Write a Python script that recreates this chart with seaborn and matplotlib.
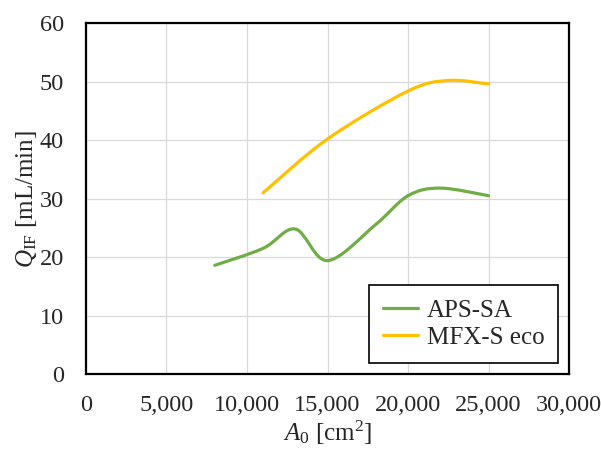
import numpy as np
import matplotlib
matplotlib.use('Agg')
import matplotlib.pyplot as plt
from matplotlib.path import Path
from matplotlib.patches import PathPatch
from matplotlib.lines import Line2D
from matplotlib.ticker import FuncFormatter
import seaborn as sns

# values
aps_area = [8000, 11000, 13000, 15000, 18000, 20000, 22000, 25000]
aps_flow = [18.6, 21.5, 24.8, 19.4, 25.6, 30.5, 31.8, 30.5]

mfx_area = [11000, 15000, 20000, 22500, 25000]
mfx_flow = [31.0, 40.2, 48.4, 50.2, 49.6]

series_names = ['APS-SA', 'MFX-S eco']
series_colors = ['#70AD47', '#FFC000']

sns.set_style('white')
plt.rcParams['font.family'] = ['Liberation Serif', 'DejaVu Serif']
plt.rcParams['mathtext.fontset'] = 'custom'
plt.rcParams['mathtext.rm'] = 'Liberation Serif'
plt.rcParams['mathtext.it'] = 'Liberation Serif:italic'


def smooth_path(xs, ys):
    # excel-like smoothed line: cubic bezier through each point
    pts = np.column_stack([xs, ys]).astype(float)
    n = len(pts)
    verts = [pts[0]]
    codes = [Path.MOVETO]
    for i in range(n - 1):
        p0 = pts[max(i - 1, 0)]
        p1 = pts[i]
        p2 = pts[i + 1]
        p3 = pts[min(i + 2, n - 1)]
        verts += [p1 + (p2 - p0) / 6, p2 - (p3 - p1) / 6, p2]
        codes += [Path.CURVE4] * 3
    return Path(verts, codes)


fig = plt.figure(figsize=(6.01, 4.54), dpi=100)
ax = fig.add_axes([0.143, 0.176, 0.804, 0.773])

handles = []
for xs, ys, name, c in zip([aps_area, mfx_area], [aps_flow, mfx_flow],
                           series_names, series_colors):
    patch = PathPatch(smooth_path(xs, ys), facecolor='none', edgecolor=c,
                      lw=2.3, capstyle='round', joinstyle='round', zorder=3)
    ax.add_patch(patch)
    handles.append(Line2D([], [], color=c, lw=2.3, label=name))

ax.set_xlim(0, 30000)
ax.set_ylim(0, 60)
ax.set_xticks(range(0, 30001, 5000))
ax.set_yticks(range(0, 61, 10))
ax.xaxis.set_major_formatter(FuncFormatter(lambda v, p: f'{int(v):,}'))
ax.grid(True, color='#D9D9D9', lw=0.9)
ax.set_axisbelow(True)
for s in ax.spines.values():
    s.set_color('black')
    s.set_linewidth(1.6)
ax.tick_params(axis='y', length=0, labelsize=17.5, pad=16)
ax.tick_params(axis='x', length=0, labelsize=17.5, pad=15)

ax.set_xlabel(r'$A_0$ [cm$^2$]', fontsize=18, labelpad=2)
ax.set_ylabel(r'$Q_{\rm IF}$ [mL/min]', fontsize=18, labelpad=0)

leg = ax.legend(handles=handles, loc='lower right', fontsize=18,
                fancybox=False, edgecolor='black', framealpha=1,
                borderaxespad=0.45, handlelength=1.4, handletextpad=0.35,
                labelspacing=0.2, borderpad=0.55)
leg.get_frame().set_linewidth(1.2)

fig.savefig('out.png', dpi=100)
